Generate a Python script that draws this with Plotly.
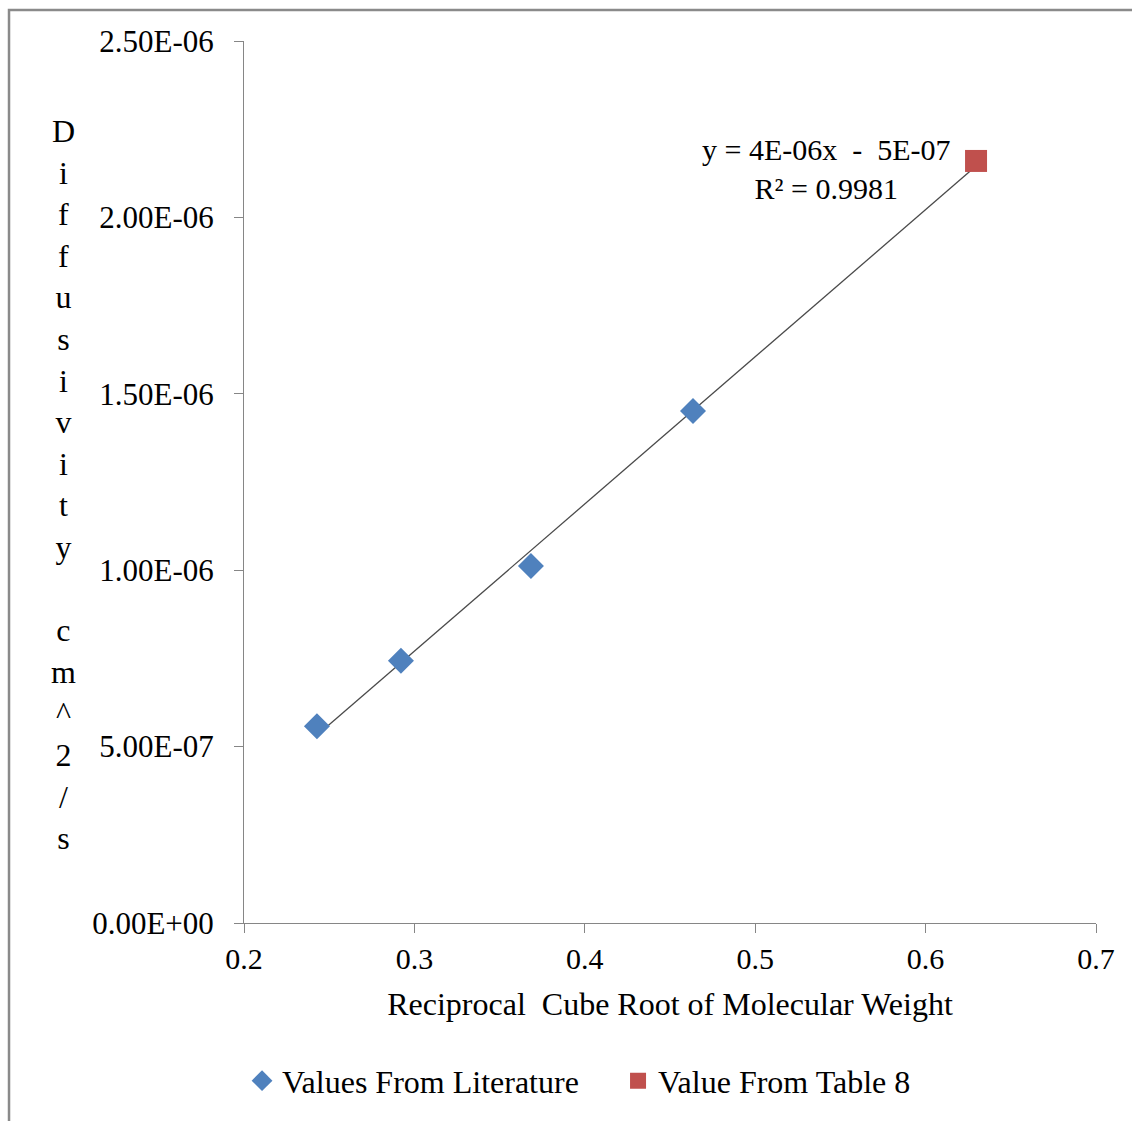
import numpy as np
import plotly.graph_objects as go

# ---- data ----
lit_x = [0.2428, 0.2921, 0.3684, 0.4635]
lit_y = [0.558e-6, 0.743e-6, 1.012e-6, 1.451e-6]
tab_x = [0.6296]
tab_y = [2.160e-6]

x_tick_vals = [0.2, 0.3, 0.4, 0.5, 0.6, 0.7]
x_tick_labels = ["0.2", "0.3", "0.4", "0.5", "0.6", "0.7"]
y_tick_vals = [0, 5e-7, 1e-6, 1.5e-6, 2e-6, 2.5e-6]
y_tick_labels = ["0.00E+00", "5.00E-07", "1.00E-06", "1.50E-06", "2.00E-06", "2.50E-06"]

x_title = "Reciprocal  Cube Root of Molecular Weight"
y_title = "Diffusivity cm^2/s"
eq_text = "y = 4E-06x  -  5E-07<br>R² = 0.9981"

# linear trendline over all points
all_x = np.array(lit_x + tab_x)
all_y = np.array(lit_y + tab_y)
slope, intercept = np.polyfit(all_x, all_y, 1)
trend_x = np.array([all_x.min(), all_x.max()])
trend_y = slope * trend_x + intercept

FONT = "Liberation Serif"

fig = go.Figure()
fig.add_trace(go.Scatter(
    x=trend_x, y=trend_y, mode="lines",
    line=dict(color="#4a4a4a", width=1.3),
    showlegend=False, hoverinfo="skip"))
fig.add_trace(go.Scatter(
    x=lit_x, y=lit_y, mode="markers", name="Values From Literature",
    marker=dict(symbol="diamond", size=20, color="#4F81BD",
                line=dict(width=0))))
fig.add_trace(go.Scatter(
    x=tab_x, y=tab_y, mode="markers", name="Value From Table 8",
    marker=dict(symbol="square", size=22, color="#C0504D",
                line=dict(width=0))))

fig.update_layout(
    width=1132, height=1121,
    margin=dict(l=244, r=36, t=41, b=198),
    paper_bgcolor="white", plot_bgcolor="white",
    font=dict(family=FONT, size=30, color="#000000"),
    xaxis=dict(
        range=[0.2, 0.7], tickvals=x_tick_vals, ticktext=x_tick_labels,
        showgrid=False, zeroline=False, showline=True,
        linecolor="#868686", linewidth=1,
        ticks="outside", ticklen=9, tickcolor="#868686",
        tickfont=dict(family=FONT, size=30),
        title=dict(text=x_title, font=dict(family=FONT, size=32), standoff=18),
    ),
    yaxis=dict(
        range=[0, 2.5e-6], tickvals=y_tick_vals, ticktext=y_tick_labels,
        showgrid=False, zeroline=False, showline=True,
        linecolor="#868686", linewidth=1,
        ticks="outside", ticklen=9, tickcolor="#868686",
        tickfont=dict(family=FONT, size=31),
        ticklabelstandoff=14,
    ),
    legend=dict(
        orientation="h", x=-0.0023, xanchor="left", y=-0.179, yanchor="middle",
        font=dict(family=FONT, size=32), entrywidth=331,
        bgcolor="rgba(0,0,0,0)",
    ),
    showlegend=True,
)

fig.add_annotation(
    text="<br>".join(list(y_title)),
    xref="paper", yref="paper", x=-0.2124, y=0.4977,
    xanchor="center", yanchor="middle", showarrow=False,
    font=dict(family=FONT, size=32), align="center")

fig.add_annotation(
    text=eq_text, xref="x", yref="y", x=0.5421, y=2.137e-6,
    xanchor="center", yanchor="middle", showarrow=False,
    font=dict(family=FONT, size=30), align="center")

fig.add_shape(
    type="rect", xref="paper", yref="paper",
    x0=-0.2758, y0=-0.3, x1=1.1, y1=1.0351,
    line=dict(color="#8a8a8a", width=2.5), fillcolor="rgba(0,0,0,0)",
    layer="below")

fig.write_html("out.html")
